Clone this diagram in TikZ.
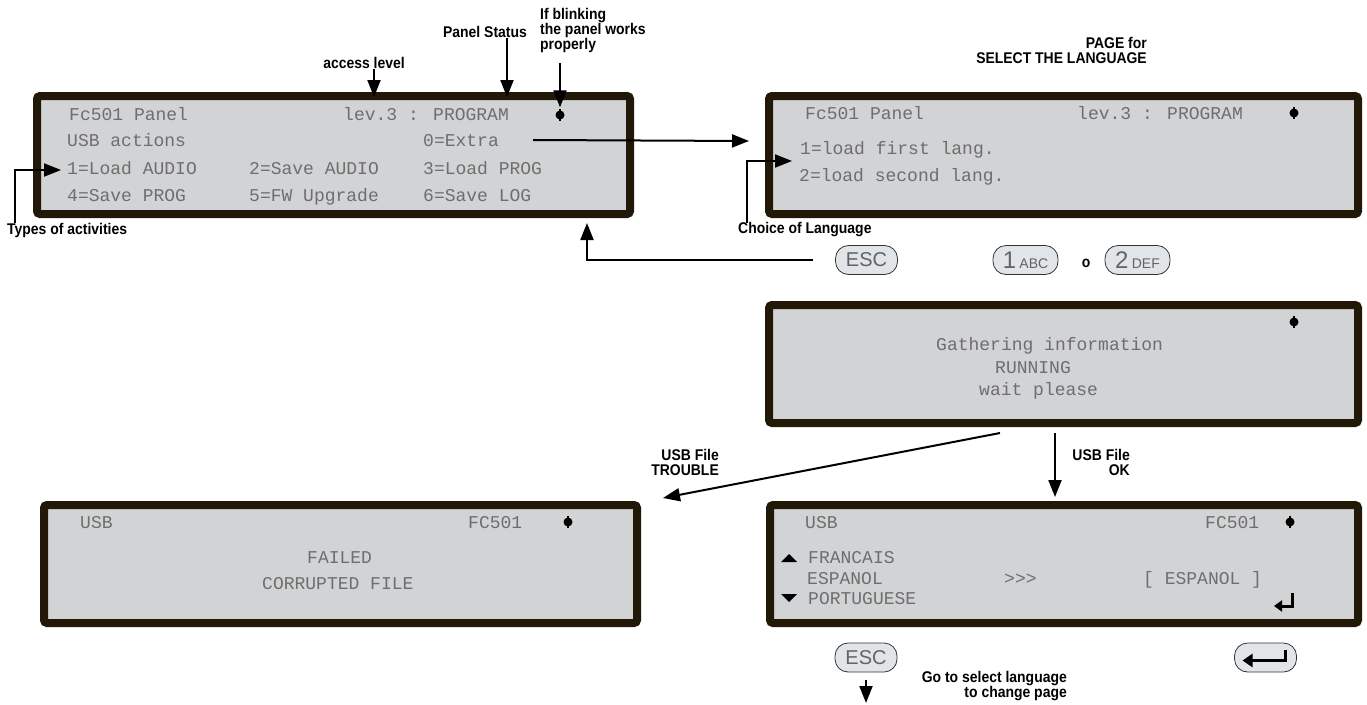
\documentclass[tikz,border=0pt]{standalone}
\usepackage{fontspec}
\usepackage{tikz}
\usetikzlibrary{arrows.meta,calc}
\newfontfamily\lcdfont{Liberation Mono}
\newfontfamily\lblfont[FakeStretch=0.9]{Liberation Sans}
\newfontfamily\keyfont{Liberation Sans}
\definecolor{lcdframe}{RGB}{34,24,8}
\definecolor{lcdfill}{RGB}{210,211,213}
\definecolor{lcdtext}{RGB}{110,110,110}
\definecolor{keyfill}{RGB}{226,229,232}
\definecolor{keytext}{RGB}{95,100,105}
\newcommand{\keynum}[2]{{\fontsize{24}{24}\selectfont #1}\,{\fontsize{14}{14}\selectfont #2}}
\tikzset{
  screen/.style={draw=lcdframe,fill=lcdfill,line width=8pt,rounded corners=3pt,
    minimum height=118pt,inner sep=0pt},
  lcd/.style={font=\lcdfont\fontsize{18}{18}\selectfont,text=lcdtext,anchor=west,
    inner sep=0pt,text height=12pt,text depth=0pt},
  lbl/.style={font=\lblfont\bfseries\fontsize{15.5}{15}\selectfont,inner sep=0pt},
  key/.style={draw=black!80,fill=keyfill,rounded corners=13pt,line width=0.8pt,
    minimum width=62pt,minimum height=29pt,inner sep=0pt,text=keytext,
    font=\keyfont\fontsize{20}{20}\selectfont},
  arr/.style={line width=2pt,-{Triangle[length=17pt,width=13pt]}},
  blink/.style={circle,fill=black,inner sep=0pt,minimum size=9pt}
}

\begin{document}
\begin{tikzpicture}[x=1pt,y=-1pt]
\useasboundingbox (0,0) rectangle (1367,704);
% displays
\node[screen,minimum width=593pt] (s1) at (333.5,155) {};
\node[screen,minimum width=589pt] (s2) at (1063.5,155) {};
\node[screen,minimum width=589pt] (s3) at (1063.5,364) {};
\node[screen,minimum width=593pt] (s4) at (340.5,564) {};
\node[screen,minimum width=588pt] (s5) at (1064,564) {};
\foreach \x/\y/\n in {560/115/d1,1294/113/d2,1294/322/d3,568/522/d4,1290/522/d5}{
  \node[blink] (\n) at (\x,\y) {};
  \draw[line width=1.6pt] (\x,\y-6) -- (\x,\y+6);
}
% USB actions page
\node[lcd] (a1) at (69,114) {Fc501 Panel};
\node[lcd] (a2) at (343,114) {lev.3 : PROGRAM};
\node[lcd] (a3) at (67,140) {USB actions};
\node[lcd] (a4) at (423,140) {0=Extra};
\foreach \x/\ta/\tb in {67/1=Load AUDIO/4=Save PROG,249/2=Save AUDIO/5=FW Upgrade,
                        423/3=Load PROG/6=Save LOG}{
  \node[lcd] (opA\x) at (\x,168) {\ta};
  \node[lcd] (opB\x) at (\x,195) {\tb};
}
% language page
\node[lcd] (b1) at (805,113) {Fc501 Panel};
\node[lcd] (b2) at (1077,113) {lev.3 : PROGRAM};
\node[lcd] (b3) at (800,148) {1=load first lang.};
\node[lcd] (b4) at (799,175) {2=load second lang.};
% running
\node[lcd] (c1) at (936,344) {Gathering information};
\node[lcd] (c2) at (995,367) {RUNNING};
\node[lcd] (c3) at (979,389) {wait please};
% failed
\node[lcd] (e1) at (80,522) {USB};
\node[lcd] (e2) at (468,522) {FC501};
\node[lcd] (e3) at (307,557) {FAILED};
\node[lcd] (e4) at (262,583) {CORRUPTED FILE};
% language list
\node[lcd] (f1) at (805,522) {USB};
\node[lcd] (f2) at (1205,522) {FC501};
\node[lcd] (f3) at (808,557) {FRANCAIS};
\node[lcd] (f4) at (807,578) {ESPANOL};
\node[lcd] (f5) at (1004,578) {>{}>{}>};
\node[lcd] (f6) at (1143,578) {[ ESPANOL ]};
\node[lcd] (f7) at (808,598) {PORTUGUESE};
\fill (781,562) -- (797,562) -- (789,554) -- cycle;
\fill (781,594) -- (797,594) -- (789,602) -- cycle;
\draw[line width=3pt,line join=miter,-{Triangle[length=8pt,width=11pt]}]
  (1292,593) -- (1292,606) -- (1274,606);
% keys
\node[key] (escA) at (866.5,260) {ESC};
\node[key,minimum width=65pt] (k1) at (1025.5,260) {\keynum{1}{ABC}};
\node[lbl] (kor) at (1086,263) {o};
\node[key,minimum width=65pt] (k2) at (1137.5,260) {\keynum{2}{DEF}};
\node[key] (escB) at (866,657.5) {ESC};
\node[key] (kEnter) at (1265.5,657.5) {};
\draw[line width=3pt,line join=miter,-{Triangle[length=10pt,width=13pt]}]
  ([shift={(20,-8)}]kEnter.center) -- ++(0,11) -- ++(-43,0);
% labels
\node[lbl,anchor=west,align=left] (lBlink) at (540,30) {If blinking\\the panel works\\properly};
\node[lbl] (lStatus) at (485,32) {Panel Status};
\node[lbl] (lAccess) at (364,63) {access level};
\node[lbl,anchor=east,align=right] (lPage) at (1147,50) {PAGE for\\SELECT THE LANGUAGE};
\node[lbl,anchor=west] (lTypes) at (7,230) {Types of activities};
\node[lbl,anchor=west] (lChoice) at (738,230) {Choice of Language};
\node[lbl,anchor=east,align=right] (lTrouble) at (719,462) {USB File\\TROUBLE};
\node[lbl,anchor=east,align=right] (lOk) at (1130,462) {USB File\\OK};
\node[lbl,anchor=east,align=right] (lGoto) at (1067,686) {Go to select language\\to change page};
% arrows
\coordinate (accTip) at (374,97);
\coordinate (stTip) at (507,97);
\coordinate (blTail) at (560,63);
\coordinate (extraTip) at (749,141);
\coordinate (typesTip) at (61,170);
\coordinate (choiceTip) at (792,161);
\coordinate (escRet) at (587,223);
\coordinate (trTail) at (1000,433);
\coordinate (trTip) at (663,498);
\coordinate (okTail) at (1055,433);
\coordinate (okTip) at (1055,497);
\coordinate (escDown) at (866,703);
\draw[arr] (lAccess.south -| accTip) -- (accTip);
\draw[arr] (lStatus.south -| stTip) -- (stTip);
\draw[arr,shorten >=3pt] (blTail) -- (d1);
\draw[arr] ([xshift=34pt]a4.east) -- (extraTip);
\draw[arr] ([xshift=8pt]lTypes.north west) |- (typesTip);
\draw[arr] ([xshift=9pt]lChoice.north west) |- (choiceTip);
\draw[arr] ([xshift=-22pt]escA.west) -| (escRet);
\draw[arr] (trTail) -- (trTip);
\draw[arr] (okTail) -- (okTip);
\draw[arr] ([yshift=-8pt]escB.south) -- (escDown);
\end{tikzpicture}
\end{document}
